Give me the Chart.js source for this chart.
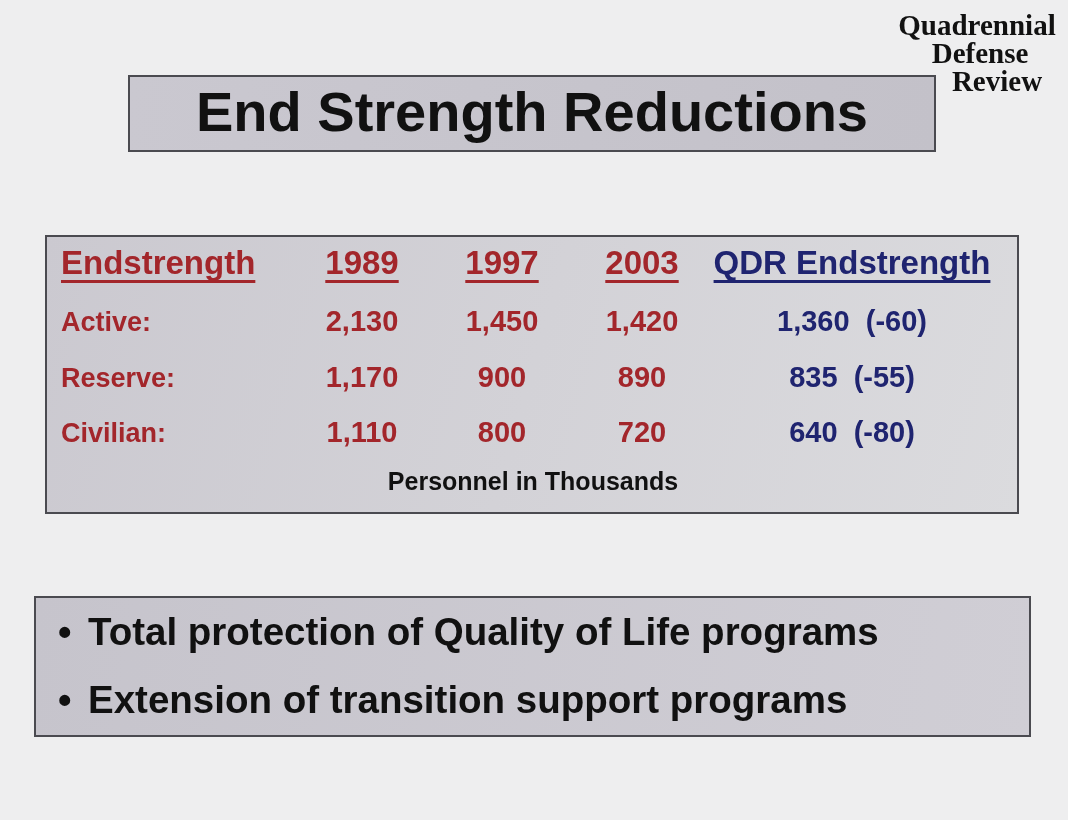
<!DOCTYPE html>
<html lang="en">
<head>
<meta charset="UTF-8">
<title>End Strength Reductions</title>
<style>
  html, body { margin: 0; padding: 0; background: #eeeeef; }
  #wrap { width: 1068px; height: 820px; }
</style>
</head>
<body>
<div id="wrap"><canvas id="slide" width="1068" height="820"></canvas></div>
<script src="https://cdn.jsdelivr.net/npm/chart.js@4.4.1/dist/chart.umd.min.js"></script>
<script>
// --- slide data ---
const pageTitle = 'End Strength Reductions';
const docName = ['Quadrennial', 'Defense', 'Review'];
const columnHeads = ['Endstrength', '1989', '1997', '2003', 'QDR Endstrength'];
const rowLabels = ['Active:', 'Reserve:', 'Civilian:'];
const end1989 = [2130, 1170, 1110];
const end1997 = [1450, 900, 800];
const end2003 = [1420, 890, 720];
const endQDR = [1360, 835, 640];
const qdrChange = [-60, -55, -80];
const unitNote = 'Personnel in Thousands';
const bulletPoints = [
  'Total protection of Quality of Life programs',
  'Extension of transition support programs'
];

// --- layout / style ---
const RED = '#a3262b';
const BLUE = '#1f2470';
const SANS = '"Liberation Sans", Arial, Helvetica, sans-serif';
const SERIF = '"Liberation Serif", "Times New Roman", serif';
const colSlot = [-1.3, 3, 5, 7, 10];   // where each table column sits on the x scale
const colColor = [RED, RED, RED, RED, BLUE];
const headRow = columnHeads[0];

const fmt = n => n.toLocaleString('en-US');

function cells(col, texts) {
  return texts.map((t, i) => ({ x: colSlot[col], y: rowLabels[i], t: t, c: col }));
}

const datasets = [
  { kind: 'head', data: columnHeads.map((h, i) => ({ x: colSlot[i], y: headRow, t: h, c: i })) },
  { kind: 'cell', data: cells(0, rowLabels) },
  { kind: 'cell', data: cells(1, end1989.map(fmt)) },
  { kind: 'cell', data: cells(2, end1997.map(fmt)) },
  { kind: 'cell', data: cells(3, end2003.map(fmt)) },
  { kind: 'cell', data: cells(4, endQDR.map((v, i) => fmt(v) + '  (' + qdrChange[i] + ')')) }
];

function panel(ctx, x, y, w, h, c1, c2) {
  const g = ctx.createLinearGradient(x, y, x + w, y + h);
  g.addColorStop(0, c1);
  g.addColorStop(1, c2);
  ctx.fillStyle = g;
  ctx.fillRect(x, y, w, h);
  ctx.lineWidth = 2;
  ctx.strokeStyle = '#4a4a50';
  ctx.strokeRect(x, y, w, h);
}

const slidePlugin = {
  id: 'slide',
  beforeDraw(chart) {
    const ctx = chart.ctx;
    const area = chart.chartArea;
    ctx.save();
    ctx.fillStyle = '#eeeeef';
    ctx.fillRect(0, 0, chart.width, chart.height);

    // boxes
    panel(ctx, 129, 76, 806, 75, '#cac8d0', '#c3c1c9');
    panel(ctx, 46, area.top - 30, 972, area.bottom - area.top + 111, '#cbc9d0', '#dbdbde');
    panel(ctx, 35, 597, 995, 139, '#c6c4cc', '#d0ced5');

    // title
    ctx.fillStyle = '#111';
    ctx.textAlign = 'center';
    ctx.textBaseline = 'alphabetic';
    ctx.font = 'bold 56px ' + SANS;
    ctx.fillText(pageTitle, 532, 131);

    // document name, top right
    ctx.font = 'bold 29px ' + SERIF;
    ctx.fillText(docName[0], 977, 35);
    ctx.fillText(docName[1], 980, 63);
    ctx.fillText(docName[2], 997, 91);

    // bullets
    ctx.textAlign = 'left';
    ctx.font = 'bold 38.5px ' + SANS;
    bulletPoints.forEach((b, i) => {
      const base = 645 + i * 68;
      ctx.fillText('\u2022', 58, base);
      ctx.fillText(b, 88, base);
    });
    ctx.restore();
  },
  afterDatasetsDraw(chart) {
    const ctx = chart.ctx;
    const area = chart.chartArea;
    ctx.save();
    ctx.textBaseline = 'alphabetic';
    chart.data.datasets.forEach((ds, di) => {
      const meta = chart.getDatasetMeta(di);
      meta.data.forEach((el, j) => {
        const p = ds.data[j];
        const head = ds.kind === 'head';
        const size = head ? 33 : (p.c === 0 ? 27 : 29);
        ctx.font = 'bold ' + size + 'px ' + SANS;
        ctx.fillStyle = colColor[p.c];
        ctx.textAlign = p.c === 0 ? 'left' : 'center';
        const base = el.y + 10 - (head ? 2 : 0);
        ctx.fillText(p.t, el.x, base);
        if (head) {
          const w = ctx.measureText(p.t).width;
          const x0 = p.c === 0 ? el.x : el.x - w / 2;
          ctx.fillRect(x0, base + 6, w, 3);
        }
      });
    });

    // footnote
    ctx.fillStyle = '#111';
    ctx.textAlign = 'center';
    ctx.font = 'bold 25px ' + SANS;
    ctx.fillText(unitNote, 533, area.bottom + 58);
    ctx.restore();
  }
};

new Chart(document.getElementById('slide'), {
  type: 'scatter',
  data: { datasets: datasets },
  options: {
    responsive: false,
    animation: false,
    events: [],
    layout: { padding: { left: 47, right: 41, top: 266, bottom: 388 } },
    scales: {
      x: { type: 'linear', display: false, min: -1.5, max: 12.5 },
      y: { type: 'category', labels: [headRow].concat(rowLabels), display: false, offset: false }
    },
    elements: { point: { radius: 0, hoverRadius: 0 } },
    plugins: {
      legend: { display: false },
      tooltip: { enabled: false }
    }
  },
  plugins: [slidePlugin]
});
</script>
</body>
</html>
